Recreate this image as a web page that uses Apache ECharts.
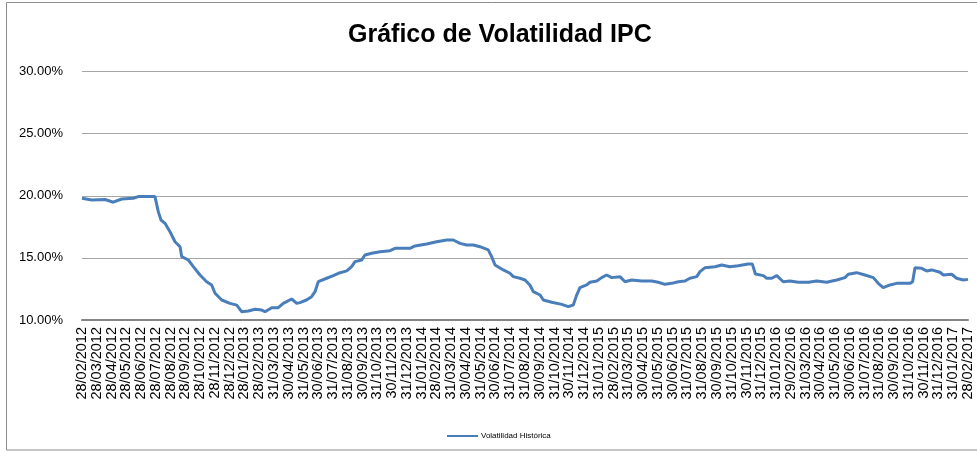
<!DOCTYPE html>
<html>
<head>
<meta charset="utf-8">
<script src="https://cdn.jsdelivr.net/npm/echarts@6/dist/echarts.min.js"></script>
<style>
html,body{margin:0;padding:0;background:#fff;}
#c{width:977px;height:452px;}
</style>
</head>
<body>
<div id="c"></div>
<script>
// Month labels (category ticks of the date axis)
const xLabels = [
 '28/02/2012','28/03/2012','28/04/2012','28/05/2012','28/06/2012','28/07/2012','28/08/2012','28/09/2012','28/10/2012','28/11/2012','28/12/2012',
 '28/01/2013','28/02/2013','31/03/2013','30/04/2013','31/05/2013','30/06/2013','31/07/2013','31/08/2013','30/09/2013','31/10/2013','30/11/2013','31/12/2013',
 '31/01/2014','28/02/2014','31/03/2014','30/04/2014','31/05/2014','30/06/2014','31/07/2014','31/08/2014','30/09/2014','31/10/2014','30/11/2014','31/12/2014',
 '31/01/2015','28/02/2015','31/03/2015','30/04/2015','31/05/2015','30/06/2015','31/07/2015','31/08/2015','30/09/2015','31/10/2015','30/11/2015','31/12/2015',
 '31/01/2016','29/02/2016','31/03/2016','30/04/2016','31/05/2016','30/06/2016','31/07/2016','31/08/2016','30/09/2016','31/10/2016','30/11/2016','31/12/2016',
 '31/01/2017','28/02/2017'
];
// Time of each sample, in months after 28/02/2012
const monthIndex = [0,0.66,1.56,2.12,2.69,3.47,3.81,4.94,5.17,5.35,5.62,5.96,6.30,6.64,6.75,7.20,7.54,7.99,8.44,8.78,9.01,9.46,10.02,10.48,10.81,11.26,11.72,12.17,12.39,12.85,13.29,13.63,14.20,14.54,14.76,15.2,15.55,15.78,16.00,16.57,17.02,17.36,17.93,18.26,18.49,18.94,19.16,19.62,20.18,20.86,21.20,22.21,22.55,23.34,24.02,24.70,25.14,25.60,26.05,26.50,26.95,27.51,27.74,27.97,28.53,28.98,29.21,29.66,30.00,30.34,30.56,31.02,31.24,31.81,32.49,32.93,33.27,33.50,33.72,34.18,34.40,34.86,35.19,35.53,35.87,36.43,36.77,37.22,37.90,38.58,39.02,39.48,39.93,40.38,40.83,41.17,41.63,41.85,42.19,42.87,43.32,43.88,44.44,45.12,45.40,45.60,46.14,46.37,46.71,47.05,47.49,47.95,48.51,49.19,49.76,50.43,51.11,51.67,51.89,52.46,53.02,53.59,53.92,54.26,54.72,55.17,56.07,56.25,56.41,56.86,57.20,57.54,58.10,58.33,58.89,59.23,59.68,60];
// Historical volatility (%)
const volatilidad = [19.8,19.66,19.7,19.48,19.74,19.8,19.93,19.93,18.7,18.05,17.78,17.1,16.3,15.9,15.1,14.83,14.3,13.62,13.08,12.82,12.15,11.61,11.34,11.2,10.67,10.72,10.86,10.8,10.67,10.99,10.99,11.34,11.69,11.34,11.4,11.61,11.88,12.28,13.08,13.36,13.57,13.76,13.95,14.29,14.7,14.83,15.23,15.37,15.5,15.58,15.77,15.77,15.96,16.12,16.3,16.44,16.44,16.17,16.04,16.04,15.9,15.64,15.1,14.43,14.03,13.76,13.49,13.36,13.22,12.8,12.28,12.01,11.61,11.43,11.26,11.07,11.21,12.01,12.6,12.82,13.04,13.14,13.41,13.62,13.41,13.49,13.08,13.22,13.14,13.14,13.04,12.87,12.95,13.08,13.14,13.36,13.49,13.89,14.21,14.29,14.43,14.29,14.37,14.51,14.5,13.7,13.57,13.36,13.36,13.57,13.08,13.14,13.04,13.04,13.14,13.04,13.22,13.41,13.68,13.81,13.62,13.41,12.95,12.6,12.82,12.95,12.95,13.08,14.21,14.16,13.95,14.03,13.84,13.62,13.68,13.36,13.22,13.27];
const yTicks = [10, 15, 20, 25, 30];
const seriesName = 'Volatilidad Histórica';
const chartTitle = 'Gráfico de Volatilidad IPC';

const data = monthIndex.map((m, i) => [m, volatilidad[i]]);
const lastIdx = xLabels.length - 1;
const xLabelStyle = {
  rotate: 90, margin: 7, interval: 0, hideOverlap: false,
  fontFamily: 'Liberation Sans', fontSize: 14.5, color: '#000',
  formatter: v => xLabels[Math.round(v)]
};
const chart = echarts.init(document.getElementById('c'), null, {renderer: 'canvas'});
chart.setOption({
  animation: false,
  backgroundColor: '#ffffff',
  graphic: [{
    type: 'rect', silent: true, z: -1,
    shape: {x: 6.5, y: 2.5, width: 990, height: 447.5},
    style: {fill: 'none', stroke: '#8c8c8c', lineWidth: 1}
  }],
  title: {
    text: chartTitle,
    left: 343, top: 18,
    textStyle: {fontFamily: 'Liberation Sans', fontWeight: 'bold', fontSize: 25, color: '#000'}
  },
  legend: {
    data: [seriesName],
    left: 441, top: 427,
    itemWidth: 31, itemHeight: 8, itemGap: 4,
    itemStyle: {color: 'rgba(0,0,0,0)', borderWidth: 0, opacity: 0},
    textStyle: {fontFamily: 'Liberation Sans', fontSize: 8, color: '#000', padding: [0,0,0,-2]}
  },
  grid: {left: 82, right: 9, top: 71.5, bottom: 132, containLabel: false},
  xAxis: [{
    type: 'value', min: 0, max: lastIdx, interval: 1, position: 'bottom',
    axisLine: {show: true, lineStyle: {color: '#858585', width: 2}},
    axisTick: {show: false},
    splitLine: {show: false},
    axisLabel: Object.assign({}, xLabelStyle, {showMinLabel: false, showMaxLabel: false})
  }, {
    type: 'value', min: 0, max: lastIdx, interval: lastIdx, position: 'bottom', offset: 0,
    axisLine: {show: false}, axisTick: {show: false}, splitLine: {show: false},
    axisLabel: Object.assign({}, xLabelStyle, {showMinLabel: true, showMaxLabel: true})
  }],
  yAxis: {
    type: 'value', min: yTicks[0], max: yTicks[yTicks.length - 1], interval: 5,
    axisLine: {show: false}, axisTick: {show: false},
    splitLine: {lineStyle: {color: '#a6a6a6', width: 1}},
    axisLabel: {
      margin: 19, fontFamily: 'Liberation Sans', fontSize: 13, color: '#000',
      formatter: v => v.toFixed(2) + '%'
    }
  },
  series: [{
    name: seriesName, type: 'line', data: data, xAxisIndex: 0,
    symbol: 'none', showSymbol: false,
    lineStyle: {color: '#4a7ebb', width: 3},
    itemStyle: {color: '#4a7ebb'}
  }]
});
</script>
</body>
</html>
